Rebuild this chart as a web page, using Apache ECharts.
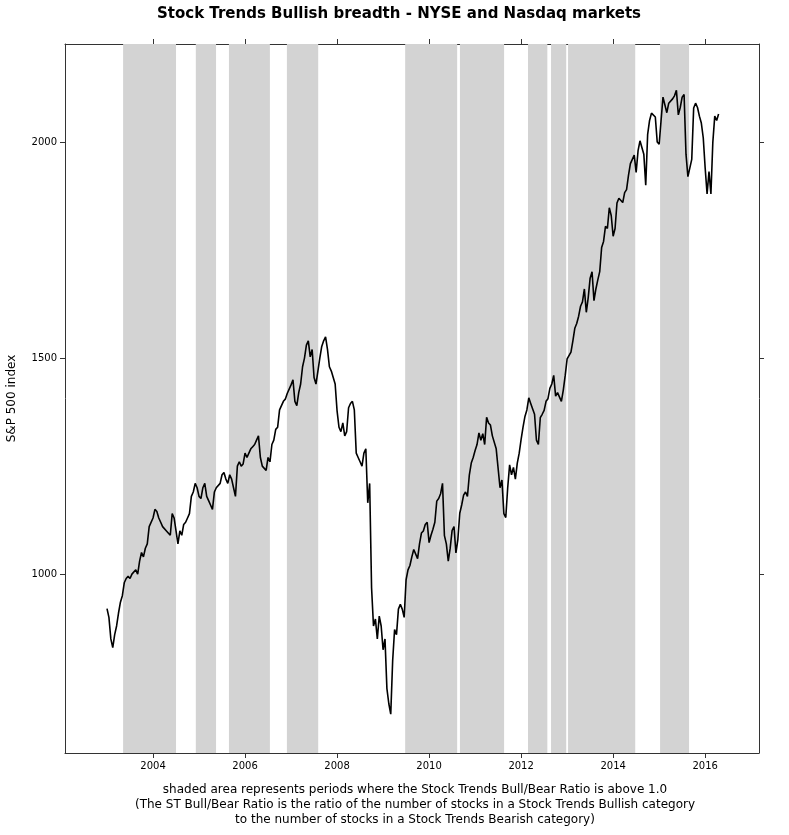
<!DOCTYPE html>
<html><head><meta charset="utf-8">
<script src="https://cdn.jsdelivr.net/npm/echarts@6/dist/echarts.min.js"></script>
<style>html,body{margin:0;padding:0;background:#fff}#c{width:789px;height:835px}</style>
</head><body><div id="c"></div>
<script>
const startYear = 2003.0;
const sp500 = [
 920,900,850,830,860,880,910,935,950,980,990,995,990,1000,1000,1010,1000,1030,1050,1040,1060,1070,1110,1110,
 1130,1150,1145,1130,1120,1110,1110,1100,1100,1090,1140,1130,1100,1070,1100,1090,1115,1120,1130,1140,1180,1190,1210,1200,
 1180,1175,1200,1210,1180,1170,1160,1150,1190,1200,1200,1210,1230,1235,1220,1210,1230,1220,1200,1180,1250,1260,1250,1255,
 1280,1270,1280,1290,1295,1300,1310,1320,1270,1250,1250,1240,1270,1260,1300,1310,1335,1340,1380,1390,1400,1405,1418,1420,
 1438,1450,1400,1390,1420,1440,1480,1500,1530,1540,1503,1520,1455,1440,1470,1500,1527,1540,1549,1520,1480,1470,1468,1440,
 1378,1340,1330,1350,1320,1330,1385,1395,1400,1380,1280,1270,1260,1250,1280,1290,1165,1210,968,880,896,850,903,880,
 825,850,735,700,676,800,872,860,919,930,919,900,987,1010,1020,1040,1057,1060,1036,1070,1095,1100,1115,1120,
 1073,1090,1104,1120,1169,1175,1186,1210,1089,1070,1030,1060,1101,1110,1049,1080,1141,1160,1183,1190,1180,1230,1257,1270,
 1286,1300,1327,1310,1325,1300,1363,1350,1345,1320,1320,1290,1292,1200,1218,1140,1131,1200,1253,1230,1247,1220,1257,1280,
 1312,1340,1365,1380,1408,1395,1397,1370,1310,1300,1362,1370,1379,1400,1406,1430,1440,1460,1412,1420,1416,1400,1426,1460,
 1498,1500,1514,1540,1569,1580,1597,1620,1630,1660,1606,1640,1685,1700,1633,1660,1681,1700,1756,1770,1805,1800,1848,1830,
 1782,1800,1859,1870,1872,1860,1883,1890,1923,1950,1960,1970,1930,1980,2003,2000,1972,1900,2018,2050,2067,2070,2058,2000,
 1995,2050,2104,2100,2068,2090,2086,2100,2107,2120,2063,2080,2104,2110,1972,1920,1920,1960,2079,2090,2080,2060,2044,2010,
 1940,1880,1932,1880,2000,2060,2050,2065
];
const shaded = [[2003.35,2004.5],[2004.93,2005.37],[2005.65,2006.54],[2006.91,2007.59],[2009.48,2010.61],[2010.67,2011.63],[2012.15,2012.57],[2012.65,2012.98],[2013.02,2014.48],[2015.02,2015.65]];
const xTicks = [2004,2006,2008,2010,2012,2014,2016];
const yTicks = [1000,1500,2000];

const data = sp500.map((v,i)=>[startYear + i/24, v]);
const font = 'DejaVu Sans';
const chart = echarts.init(document.getElementById('c'));
const xBase = {type:'value',min:2002.087,max:2017.17,splitLine:{show:false},
  axisLine:{onZero:false,lineStyle:{color:'#333'}},
  axisTick:{show:true,customValues:xTicks,length:5,lineStyle:{color:'#333'}},
  axisLabel:{customValues:xTicks,fontFamily:font,fontSize:10,color:'#000',formatter:v=>String(v)}};
const yBase = {type:'value',min:586,max:2227,splitLine:{show:false},
  axisLine:{show:true,onZero:false,lineStyle:{color:'#333'}},
  axisTick:{show:true,customValues:yTicks,length:5,lineStyle:{color:'#333'}},
  axisLabel:{customValues:yTicks,fontFamily:font,fontSize:10,color:'#000',formatter:v=>String(v)}};
chart.setOption({
  animation:false,
  title:{text:'Stock Trends Bullish breadth - NYSE and Nasdaq markets',left:394,top:2,textAlign:'center',
    textStyle:{fontFamily:font,fontSize:15,fontWeight:'bold',color:'#000'}},
  graphic:[{type:'text',x:415,y:782,style:{text:'shaded area represents periods where the Stock Trends Bull/Bear Ratio is above 1.0\n(The ST Bull/Bear Ratio is the ratio of the number of stocks in a Stock Trends Bullish category\nto the number of stocks in a Stock Trends Bearish category)',
    textAlign:'center',fontFamily:font,fontSize:12,lineHeight:15,fill:'#000'}}],
  grid:{left:65,right:30,top:44,bottom:82,containLabel:false,outerBoundsMode:'none'},
  xAxis:[Object.assign({position:'bottom'},xBase),
         Object.assign({position:'top'},xBase,{axisLabel:{show:false}})],
  yAxis:[Object.assign({position:'left',name:'S&P 500 index',nameLocation:'middle',nameGap:47,nameRotate:90,
           nameTextStyle:{fontFamily:font,fontSize:12,color:'#000'}},yBase),
         Object.assign({position:'right'},yBase,{axisLabel:{show:false}})],
  series:[{type:'line',data:data,showSymbol:false,symbol:'none',
    lineStyle:{color:'#000',width:1.6},
    markArea:{silent:true,itemStyle:{color:'#d3d3d3'},
      data:shaded.map(s=>[{xAxis:s[0],yAxis:586},{xAxis:s[1],yAxis:2227}])}}]
});
</script></body></html>
